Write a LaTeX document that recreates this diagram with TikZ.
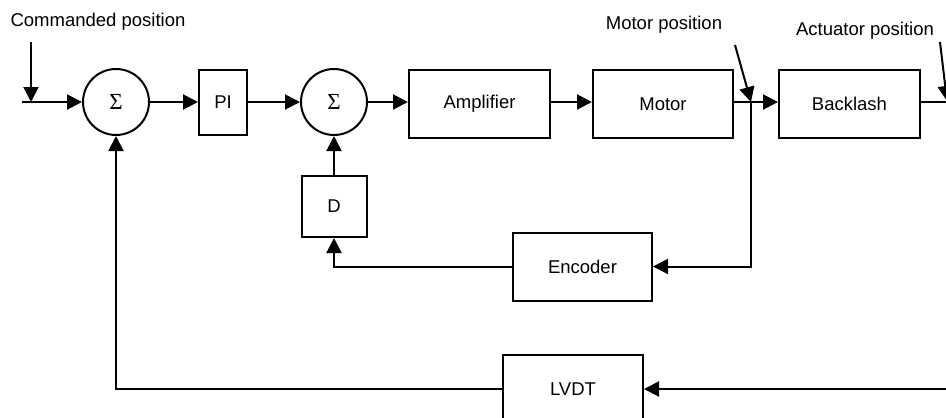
\documentclass[tikz,border=0pt]{standalone}
\usepackage{fontspec}
\setmainfont{Liberation Sans}
\newfontfamily\sigmafont{Liberation Serif}
\usetikzlibrary{arrows.meta}
\begin{document}
\begin{tikzpicture}[x=1pt,y=-1pt,
  line width=2pt,
  font=\fontsize{18.5}{22}\selectfont,
  blk/.style={draw, rectangle, inner sep=0pt, minimum width=#1, minimum height=68pt},
  sumnode/.style={draw, circle, minimum size=66pt, inner sep=0pt, font=\sigmafont\fontsize{23}{23}\selectfont},
  arr/.style={-{Triangle[length=15pt,width=15pt]}},
  lbl/.style={inner sep=0pt}]
\useasboundingbox (0,0) rectangle (946,418);
\clip (0,0) rectangle (946,418);
% blocks
\node[sumnode] (s1) at (116,102) {Σ};
\node[blk=48pt, minimum height=65pt] (pi) at (223,102) {PI};
\node[sumnode] (s2) at (334,102) {Σ};
\node[blk=141pt] (amp) at (479.5,104) {Amplifier};
\node[blk=140pt] (motor) at (663,104) {Motor};
\node[blk=141pt] (backlash) at (849.5,104) {Backlash};
\node[blk=65pt, minimum height=61pt] (dgain) at (334,206.5) {D};
\node[blk=139pt] (enc) at (582.5,266.5) {Encoder};
\node[blk=140pt] (lvdt) at (573,389) {LVDT};
% labels
\node[lbl] (tcmd) at (98,22) {Commanded position};
\node[lbl] (tmot) at (664,25) {Motor position};
\node[lbl] (tact) at (865,31) {Actuator position};
% free ends
\coordinate (cin) at (22,102);
\coordinate (cmdtop) at (31,42);
\coordinate (cmdtip) at (31,102);
\coordinate (jm) at (751,102);
\coordinate (mtop) at (735,45);
\coordinate (aend) at (950,102);
\coordinate (atop) at (940,42);
\coordinate (atip) at (947,101);
\coordinate (fbR) at (950,389);
% connectors
\draw[arr] (cin) -- (s1.west);
\draw[arr] (cmdtop) -- (cmdtip);
\draw[arr] (s1) -- (pi);
\draw[arr] (pi) -- (s2);
\draw[arr] (s2.east) -- (s2.east -| amp.west);
\draw[arr] (amp.east |- s2.east) -- (s2.east -| motor.west);
\draw[arr] (motor.east |- s2.east) -- (s2.east -| backlash.west);
\draw[arr] (mtop) -- (jm);
\draw[arr] (jm) |- (enc.east);
\draw[arr] (enc.west) -| (dgain.south);
\draw[arr] (dgain) -- (s2);
\draw (backlash.east |- s2.east) -- (aend);
\draw[arr] (atop) -- (atip);
\draw[arr] (fbR) -- (lvdt.east);
\draw[arr] (lvdt.west) -| (s1.south);
\end{tikzpicture}
\end{document}
